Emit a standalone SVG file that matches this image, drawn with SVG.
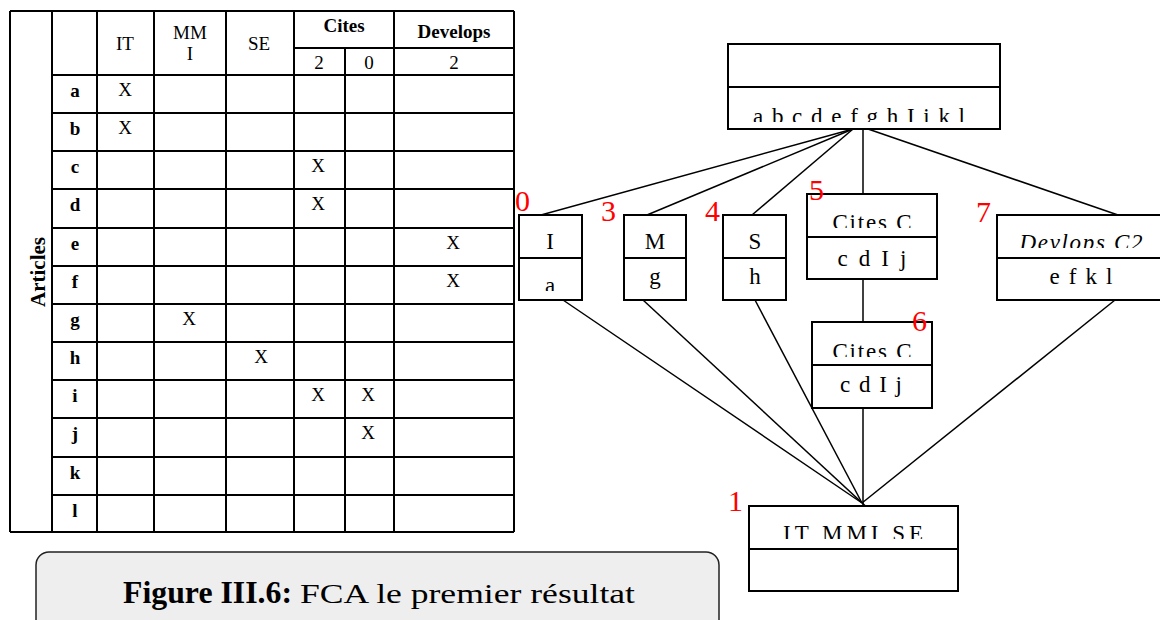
<svg xmlns="http://www.w3.org/2000/svg" width="1160" height="620" viewBox="0 0 1160 620">
<style>
.t{font-family:"Liberation Serif","Times New Roman",serif;fill:#000}
.tb{font-family:"Liberation Serif","Times New Roman",serif;font-weight:bold;fill:#000}
.grid line{stroke:#000;stroke-width:2}
.box{fill:#fff;stroke:#000;stroke-width:2}
.div{stroke:#000;stroke-width:2}
.edge{stroke:#000;stroke-width:1.5;fill:none}
.num{font-family:"Liberation Serif","Times New Roman",serif;fill:#ff0000;font-size:30px}
.nt{font-family:"Liberation Serif","Times New Roman",serif;font-size:23px;fill:#000}
</style>
<defs>
<clipPath id="c0"><rect x="728" y="87" width="272" height="35"/></clipPath>
<clipPath id="cA"><rect x="519" y="258" width="63" height="33"/></clipPath>
<clipPath id="c5"><rect x="807" y="194" width="130" height="34"/></clipPath>
<clipPath id="c6"><rect x="812" y="322" width="120" height="35"/></clipPath>
<clipPath id="c7"><rect x="997" y="215" width="170" height="33"/></clipPath>
<clipPath id="c1"><rect x="749" y="506" width="209" height="33"/></clipPath>
</defs>
<rect width="1160" height="620" fill="#fff"/>

<g id="table">
<g class="grid">
<line x1="10" y1="11" x2="514" y2="11"/>
<line x1="294" y1="48" x2="514" y2="48"/>
<line x1="52" y1="75" x2="514" y2="75"/>
<line x1="52" y1="113" x2="514" y2="113"/>
<line x1="52" y1="151" x2="514" y2="151"/>
<line x1="52" y1="189" x2="514" y2="189"/>
<line x1="52" y1="228" x2="514" y2="228"/>
<line x1="52" y1="266" x2="514" y2="266"/>
<line x1="52" y1="304" x2="514" y2="304"/>
<line x1="52" y1="342" x2="514" y2="342"/>
<line x1="52" y1="380" x2="514" y2="380"/>
<line x1="52" y1="418" x2="514" y2="418"/>
<line x1="52" y1="457" x2="514" y2="457"/>
<line x1="52" y1="495" x2="514" y2="495"/>
<line x1="10" y1="532" x2="514" y2="532"/>
<line x1="10" y1="11" x2="10" y2="532"/>
<line x1="52" y1="11" x2="52" y2="532"/>
<line x1="97" y1="11" x2="97" y2="532"/>
<line x1="154" y1="11" x2="154" y2="532"/>
<line x1="226" y1="11" x2="226" y2="532"/>
<line x1="294" y1="11" x2="294" y2="532"/>
<line x1="345" y1="48" x2="345" y2="532"/>
<line x1="394" y1="11" x2="394" y2="532"/>
<line x1="514" y1="11" x2="514" y2="532"/>
</g>
<text class="tb" font-size="21" transform="translate(45,272) rotate(-90)" text-anchor="middle">Articles</text>
<g class="t" font-size="19" text-anchor="middle">
<text x="125" y="50">IT</text>
<text x="190" y="39">MM</text>
<text x="190" y="60">I</text>
<text x="259" y="50">SE</text>
<text x="319" y="69">2</text>
<text x="369" y="69">0</text>
<text x="454" y="69">2</text>
</g>
<g class="tb" font-size="19" text-anchor="middle">
<text x="344" y="32">Cites</text>
<text x="454" y="38">Develops</text>
<text x="75" y="97">a</text>
<text x="75" y="135">b</text>
<text x="75" y="173">c</text>
<text x="75" y="211">d</text>
<text x="75" y="250">e</text>
<text x="75" y="288">f</text>
<text x="75" y="326">g</text>
<text x="75" y="364">h</text>
<text x="75" y="402">i</text>
<text x="75" y="440">j</text>
<text x="75" y="479">k</text>
<text x="75" y="517">l</text>
</g>
<g class="t" font-size="19" text-anchor="middle">
<text x="125" y="96">X</text>
<text x="125" y="134">X</text>
<text x="318" y="172">X</text>
<text x="318" y="210">X</text>
<text x="453" y="249">X</text>
<text x="453" y="287">X</text>
<text x="189" y="325">X</text>
<text x="261" y="363">X</text>
<text x="318" y="401">X</text>
<text x="368" y="401">X</text>
<text x="368" y="439">X</text>
</g>
</g>

<g id="connectors">
<line class="edge" x1="853" y1="129" x2="541" y2="215"/>
<line class="edge" x1="853" y1="129" x2="647" y2="215"/>
<line class="edge" x1="853" y1="129" x2="752" y2="215"/>
<line class="edge" x1="863" y1="129" x2="863" y2="194"/>
<line class="edge" x1="868" y1="129" x2="1118" y2="215"/>
<line class="edge" x1="863" y1="279" x2="863" y2="322"/>
<line class="edge" x1="863" y1="408" x2="863" y2="506"/>
<line class="edge" x1="563" y1="300" x2="862" y2="503"/>
<line class="edge" x1="643" y1="300" x2="873" y2="513"/>
<line class="edge" x1="755" y1="300" x2="862" y2="503"/>
<line class="edge" x1="1115" y1="300" x2="862" y2="503"/>
</g>

<g id="node-top">
<rect class="box" x="728" y="44" width="272" height="85"/>
<line class="div" x1="728" y1="87" x2="1000" y2="87"/>
<text class="nt" x="859" y="124" text-anchor="middle" textLength="212" lengthAdjust="spacing" clip-path="url(#c0)">a b c d e f g h I i k l</text>
</g>

<g id="node-0">
<rect class="box" x="519" y="215" width="63" height="85"/>
<line class="div" x1="519" y1="258" x2="582" y2="258"/>
<text class="nt" x="550" y="249" text-anchor="middle">I</text>
<text class="nt" x="550" y="293" text-anchor="middle" clip-path="url(#cA)">a</text>
<text class="num" x="515" y="211">0</text>
</g>

<g id="node-3">
<rect class="box" x="624" y="215" width="62" height="85"/>
<line class="div" x1="624" y1="258" x2="686" y2="258"/>
<text class="nt" x="655" y="249" text-anchor="middle">M</text>
<text class="nt" x="655" y="284" text-anchor="middle">g</text>
<text class="num" x="601" y="221">3</text>
</g>

<g id="node-4">
<rect class="box" x="723" y="215" width="63" height="85"/>
<line class="div" x1="723" y1="258" x2="786" y2="258"/>
<text class="nt" x="755" y="249" text-anchor="middle">S</text>
<text class="nt" x="755" y="284" text-anchor="middle">h</text>
<text class="num" x="705" y="221">4</text>
</g>

<g id="node-5">
<rect class="box" x="807" y="194" width="130" height="85"/>
<line class="div" x1="807" y1="237" x2="937" y2="237"/>
<text class="nt" x="872" y="230" text-anchor="middle" textLength="79" lengthAdjust="spacing" clip-path="url(#c5)">Cites C</text>
<text class="nt" x="872" y="266" text-anchor="middle" textLength="69" lengthAdjust="spacing">c d I j</text>
<text class="num" x="809" y="200">5</text>
</g>

<g id="node-7">
<rect class="box" x="997" y="215" width="170" height="85"/>
<line class="div" x1="997" y1="258" x2="1167" y2="258"/>
<text class="nt" x="1081" y="250" text-anchor="middle" font-style="italic" textLength="123" lengthAdjust="spacing" clip-path="url(#c7)">Devlops C2</text>
<text class="nt" x="1081" y="284" text-anchor="middle" textLength="63" lengthAdjust="spacing">e f k l</text>
<text class="num" x="976" y="222">7</text>
</g>

<g id="node-6">
<rect class="box" x="812" y="322" width="120" height="86"/>
<line class="div" x1="812" y1="365" x2="932" y2="365"/>
<text class="nt" x="872" y="359" text-anchor="middle" textLength="79" lengthAdjust="spacing" clip-path="url(#c6)">Cites C</text>
<text class="nt" x="871" y="392" text-anchor="middle" textLength="62" lengthAdjust="spacing">c d I j</text>
<text class="num" x="912" y="331">6</text>
</g>

<g id="node-1">
<rect class="box" x="749" y="506" width="209" height="85"/>
<line class="div" x1="749" y1="549" x2="958" y2="549"/>
<text class="nt" x="853" y="541" text-anchor="middle" textLength="140" lengthAdjust="spacing" clip-path="url(#c1)">IT MMI SE</text>
<text class="num" x="728" y="511">1</text>
</g>

<g id="caption">
<rect x="36" y="552" width="683" height="90" rx="13" fill="#eeeeee" stroke="#222" stroke-width="1.5"/>
<text class="tb" x="123" y="603" font-size="31" textLength="169" lengthAdjust="spacingAndGlyphs">Figure III.6:</text>
<text class="t" x="300" y="603" font-size="27" textLength="335" lengthAdjust="spacingAndGlyphs">FCA le premier résultat</text>
</g>
</svg>
